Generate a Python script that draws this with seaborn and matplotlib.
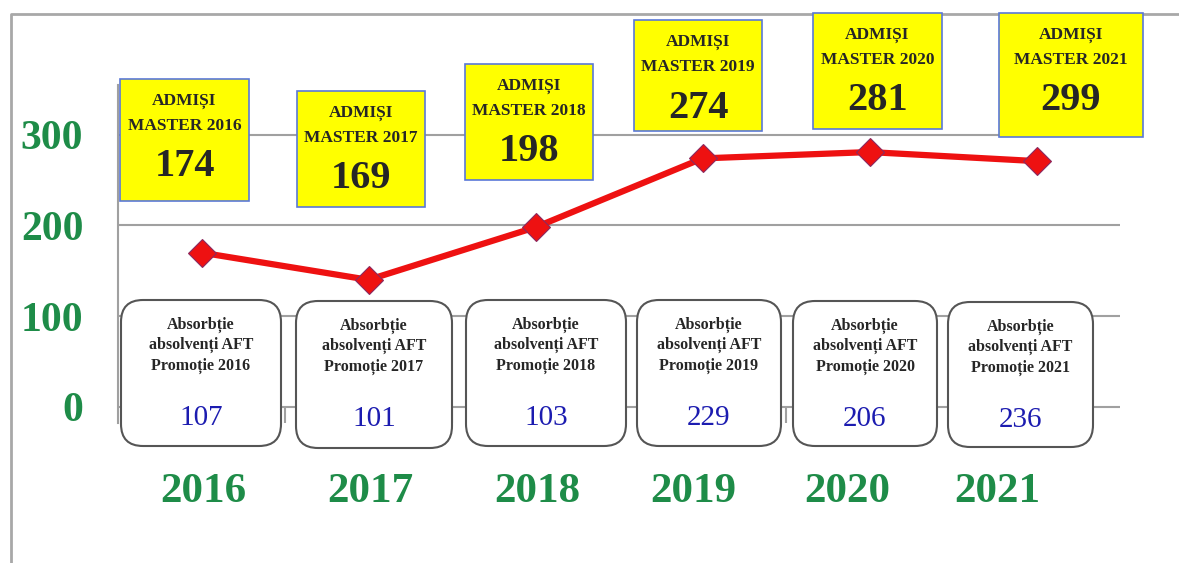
import numpy as np
import pandas as pd
import matplotlib
matplotlib.use("Agg")
import matplotlib.pyplot as plt
from matplotlib.patches import FancyBboxPatch, Rectangle
from matplotlib.lines import Line2D
import seaborn as sns

# data
years = ["2016", "2017", "2018", "2019", "2020", "2021"]
line_values = [170, 140, 198, 274, 281, 271]
admisi = [174, 169, 198, 274, 281, 299]
absorbtie = [107, 101, 103, 229, 206, 236]
y_ticks = [0, 100, 200, 300]

# layout (pixels, from top-left of the 1179x563 image)
W, H = 1179, 563
yellow_boxes = [(120, 79, 129, 122), (297, 91, 128, 116), (465, 64, 128, 116),
                (634, 20, 128, 111), (813, 13, 129, 116), (999, 13, 144, 124)]
white_boxes = [(121, 300, 160, 146), (296, 301, 156, 147), (466, 300, 160, 146),
               (637, 300, 144, 146), (793, 301, 144, 145), (948, 302, 145, 145)]
year_x = [203, 370, 537, 693, 847, 997]

GREEN = "#1e8c48"
SERIF = ["Liberation Serif", "DejaVu Serif"]

sns.set_style("white")
plt.rcParams["font.family"] = SERIF

fig = plt.figure(figsize=(W / 100, H / 100), dpi=100)
# axes: x from 118 to 1120 px, y from 85 to 423 px
ax = fig.add_axes([118 / W, (H - 423) / H, (1120 - 118) / W, (423 - 85) / H])

df = pd.DataFrame({"idx": np.arange(len(years)), "val": line_values})
sns.lineplot(data=df, x="idx", y="val", ax=ax, color="#ee1111", linewidth=4.5,
             marker="D", markersize=14, markerfacecolor="#ee1111",
             markeredgecolor="#8a2a60", markeredgewidth=0.8, zorder=3)

ax.set_xlim(-0.5, 5.5)
ax.set_ylim(-18, 355)
ax.set_yticks(y_ticks)
ax.set_yticklabels([str(v) for v in y_ticks], color=GREEN, fontsize=30,
                   fontweight="bold")
ax.set_xticks([])
ax.set_xlabel("")
ax.set_ylabel("")
ax.tick_params(axis="y", length=8, width=1.3, color="#999999", pad=17)
for v in y_ticks:
    ax.axhline(v, color="#a0a0a0", lw=1.5, zorder=1)
ax.vlines(np.arange(0.5, 5.5), -18, 0, color="#a0a0a0", lw=1.5, zorder=1)
for s in ["top", "right", "bottom"]:
    ax.spines[s].set_visible(False)
ax.spines["left"].set_color("#a0a0a0")
ax.spines["left"].set_linewidth(1.5)
ax.patch.set_alpha(0)


def P(x, y):
    return x / 100, (H - y) / 100


tr = fig.dpi_scale_trans

# outer frame
fig.add_artist(Line2D([0.11, 0.11, W / 100], [0, (H - 14) / 100, (H - 14) / 100],
                      transform=tr, color="#a8a8a8", lw=2))

# yellow boxes
for (x, y, w, h), yr, n in zip(yellow_boxes, years, admisi):
    x0, y0 = P(x, y + h)
    fig.add_artist(Rectangle((x0, y0), w / 100, h / 100, transform=tr,
                             facecolor="#ffff00", edgecolor="#5a78d8", lw=1.2,
                             zorder=5))
    cx = x + w / 2
    fig.text(*P(cx, y + 22), "ADMIȘI", transform=tr, ha="center", va="center",
             fontsize=12.5, fontweight="bold", zorder=6)
    fig.text(*P(cx, y + 47), f"MASTER {yr}", transform=tr, ha="center",
             va="center", fontsize=12.5, fontweight="bold", zorder=6)
    fig.text(*P(cx, y + 88), str(n), transform=tr, ha="center", va="center",
             fontsize=29, fontweight="bold", zorder=6)

# white rounded boxes
for (x, y, w, h), yr, n in zip(white_boxes, years, absorbtie):
    x0, y0 = P(x, y + h)
    fig.add_artist(FancyBboxPatch((x0, y0), w / 100, h / 100, transform=tr,
                                  boxstyle="round,pad=0,rounding_size=0.22",
                                  facecolor="white", edgecolor="#555555", lw=1.5,
                                  zorder=5))
    cx = x + w / 2
    fig.text(*P(cx, y + 45), f"Absorbție\nabsolvenți AFT\nPromoție {yr}",
             transform=tr, ha="center", va="center", fontsize=11.5,
             fontweight="bold", linespacing=1.35, zorder=6)
    fig.text(*P(cx, y + 118), str(n), transform=tr, ha="center", va="center",
             fontsize=21, color="#1c1cb0", zorder=6)

# year labels
for x, yr in zip(year_x, years):
    fig.text(*P(x, 492), yr, transform=tr, ha="center", va="center",
             fontsize=31, fontweight="bold", color=GREEN)

fig.savefig("out.png", dpi=100)
